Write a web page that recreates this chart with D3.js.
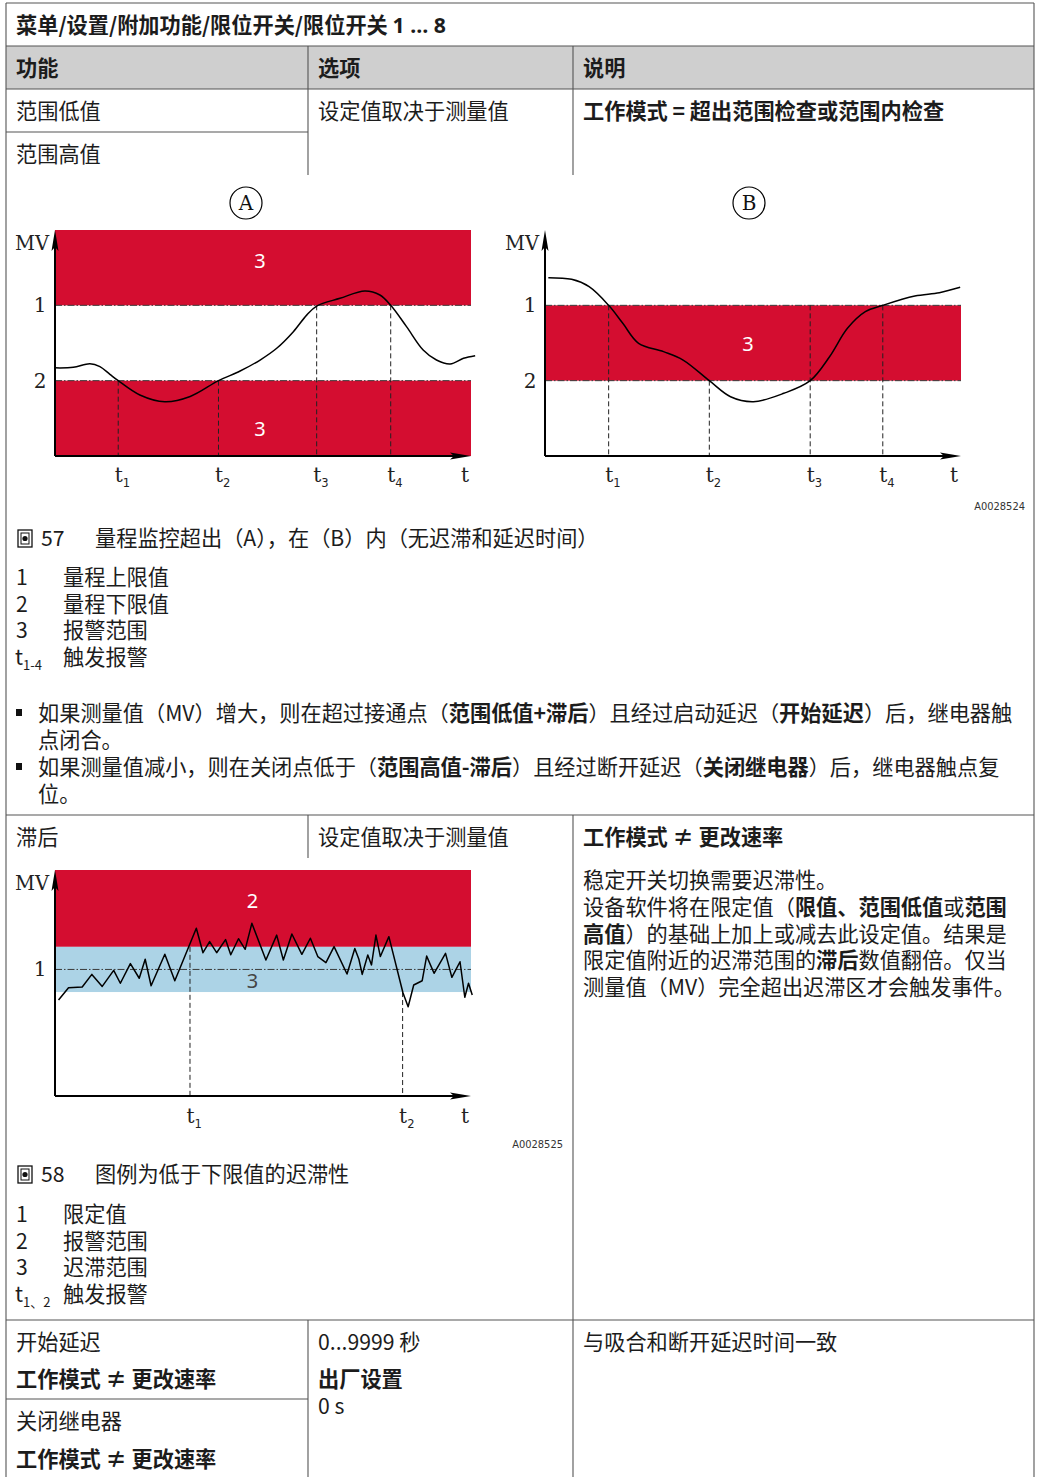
<!DOCTYPE html>
<html><head><meta charset="utf-8">
<script src="https://cdn.jsdelivr.net/npm/d3@7"></script>
<style>body{margin:0;background:#fff}svg{display:block}</style>
</head><body>
<svg id="c" width="1040" height="1477"></svg>
<script>
// ---------- DATA ----------
// Figure 57 (A): MV vs time (t 0..100, MV 0..3). Upper limit = 2, lower limit = 1
const curveA = [[0,1.17],[4.4,1.177],[8.4,1.225],[10.8,1.186],[13.2,1.084],[15.2,1.0],[20.4,0.81],[26.4,0.72],[32.5,0.79],[39.3,1.0],[44.5,1.128],[49.3,1.274],[53.3,1.43],[57.3,1.65],[60.5,1.87],[62.9,1.99],[68.5,2.093],[74.5,2.19],[78.1,2.137],[80.7,2.0],[84.5,1.717],[88.5,1.407],[91.7,1.274],[95.0,1.221],[98.2,1.297],[101,1.332]];
const curveB = [[0.8,2.367],[6.4,2.345],[10.6,2.248],[15.3,2.0],[18.7,1.761],[22.5,1.496],[28.5,1.385],[33.2,1.274],[39.5,1.0],[44.6,0.787],[50.1,0.721],[57.4,0.832],[63.75,1.0],[68.4,1.318],[72.7,1.695],[77.0,1.916],[81.2,2.0],[88.9,2.124],[94.8,2.168],[99.8,2.24]];
const limitsAB = [2, 1];               // upper (label 1), lower (label 2)
const limitLabelsAB = ["1", "2"];
const ticksA = [{t:15.2,from:1,sub:"1"},{t:39.3,from:1,sub:"2"},{t:62.9,from:2,sub:"3"},{t:80.7,from:2,sub:"4"}];
const ticksB = [{t:15.3,from:2,sub:"1"},{t:39.5,from:1,sub:"2"},{t:63.75,from:2,sub:"3"},{t:81.2,from:2,sub:"4"}];
// Figure 58: hysteresis (t 0..100, MV 0..100), limit 56, hysteresis +-10
const curve58 = [[0.85,42.5],[3.25,47.9],[6.54,48.2],[8.86,53.8],[11.35,48.5],[14.11,55.6],[15.71,49.9],[18.12,58.6],[20.25,52.1],[21.68,60.5],[23.10,48.8],[26.40,62.7],[28.80,51.0],[33.97,74.2],[35.57,63.4],[37.17,68.3],[38.86,63.4],[41.0,69.2],[42.25,62.5],[44.11,69.6],[45.72,64.9],[47.32,76.4],[50.70,60.2],[53.29,71.2],[54.89,60.2],[56.94,71.7],[59.34,62.7],[61.39,69.8],[63.17,61.7],[65.13,59.0],[67.08,66.1],[70.20,54.0],[72.07,65.3],[73.05,60.5],[73.85,53.8],[75.19,62.4],[76.08,58.0],[77.15,71.2],[78.21,61.7],[80.26,70.5],[83.64,45.7],[84.89,39.5],[86.23,49.1],[88.27,51.0],[89.34,61.9],[91.12,54.3],[93.88,63.1],[95.40,52.5],[97.36,59.4],[98.51,43.7],[99.40,49.9],[100.3,44.7]];
const limit58 = 56, hyst58 = 10;
const ticks58 = [{t:32.45,from:66,sub:"1"},{t:83.56,from:46,sub:"2"}];

// Texts
const titleSegs = [["菜单/设置/附加功能/限位开关/限位开关 ", "cjk"], ["1 … 8", "latin"]];
const headers = ["功能", "选项", "说明"];
const legend57 = [["1","量程上限值"],["2","量程下限值"],["3","报警范围"],["t|1-4","触发报警"]];
const legend58 = [["1","限定值"],["2","报警范围"],["3","迟滞范围"],["t|1、2","触发报警"]];
const bullets = [
  [[["如果测量值（MV）增大，则在超过接通点（",0],["范围低值+滞后",1],["）且经过启动延迟（",0],["开始延迟",1],["）后，继电器触",0]],[["点闭合。",0]]],
  [[["如果测量值减小，则在关闭点低于（",0],["范围高值-滞后",1],["）且经过断开延迟（",0],["关闭继电器",1],["）后，继电器触点复",0]],[["位。",0]]]
];
const para58 = [
  [["稳定开关切换需要迟滞性。",0]],
  [["设备软件将在限定值（",0],["限值、范围低值",1],["或",0],["范围",1]],
  [["高值",1],["）的基础上加上或减去此设定值。结果是",0]],
  [["限定值附近的迟滞范围的",0],["滞后",1],["数值翻倍。仅当",0]],
  [["测量值（MV）完全超出迟滞区才会触发事件。",0]]
];

// ---------- DRAW ----------
const svg = d3.select("#c");
const FONT = "'Noto Sans CJK SC','Noto Sans',sans-serif";
const LATIN = "'Noto Sans','Noto Sans CJK SC',sans-serif";
const SERIF = "'DejaVu Serif','Liberation Serif',serif";
const RED = "#d40d30", BLUE = "#acd3e6", LINE = "#555", TXT = "#1c1c1c";
const FS = 21.2;

function txt(x, y, segs, opt={}) {
  const t = svg.append("text").attr("x", x).attr("y", y)
    .attr("font-family", opt.family || FONT).attr("font-size", opt.size || FS)
    .attr("fill", opt.fill || TXT).attr("text-anchor", opt.anchor || "start");
  if (typeof segs === "string") segs = [[segs, opt.bold ? 1 : 0]];
  segs.forEach(s => t.append("tspan").text(s[0]).attr("font-weight", s[1] ? 700 : 400));
  return t;
}
// one <text> holding several positioned runs (multi-line blocks)
function block(runs) {
  const t = svg.append("text").attr("font-family", FONT).attr("font-size", FS).attr("fill", TXT);
  runs.forEach(r => {
    const s = t.append("tspan").text(r.text).attr("font-weight", r.bold ? 700 : 400);
    if (r.x !== undefined) s.attr("x", r.x);
    if (r.y !== undefined) s.attr("y", r.y);
    if (r.dy !== undefined) s.attr("dy", r.dy);
    if (r.size) s.attr("font-size", r.size);
  });
  return t;
}
function hl(x1, x2, y) { svg.append("line").attr("x1",x1).attr("x2",x2).attr("y1",y).attr("y2",y).attr("stroke",LINE).attr("stroke-width",1.1); }
function vl(x, y1, y2) { svg.append("line").attr("x1",x).attr("x2",x).attr("y1",y1).attr("y2",y2).attr("stroke",LINE).attr("stroke-width",1.1); }

// header background
svg.append("rect").attr("x",6).attr("y",46).attr("width",1028).attr("height",43).attr("fill","#cfcfcf");
// table lines
hl(6,1034,3); vl(6,3,1477); vl(1034,3,1477);
hl(6,1034,46); hl(6,1034,89);
vl(308,46,175); vl(573,46,175); hl(6,308,132);
hl(6,1034,815); vl(308,815,858); vl(573,815,1320);
hl(6,1034,1320); vl(308,1320,1477); vl(573,1320,1477); hl(6,308,1399);

{
  const t = svg.append("text").attr("x",16).attr("y",33).attr("font-size",FS).attr("font-weight",700).attr("fill",TXT);
  titleSegs.forEach(s => t.append("tspan").text(s[0]).attr("font-family", s[1]==="latin" ? LATIN : FONT));
}
[16,318,583].forEach((x,i)=>txt(x, 76, headers[i], {bold:1}));
txt(16,119,"范围低值"); txt(16,162,"范围高值");
txt(318,119,"设定值取决于测量值");
txt(583,119,"工作模式 = 超出范围检查或范围内检查",{bold:1});

// ---------- charts ----------
function drawChart(cfg) {
  const x = d3.scaleLinear().domain([0,100]).range(cfg.xr);
  const y = d3.scaleLinear().domain(cfg.yd).range(cfg.yr);
  const g = svg.append("g");
  cfg.bands.forEach(b => g.append("rect").attr("x", x(0)).attr("width", x(100)-x(0))
     .attr("y", y(b[1])).attr("height", y(b[0])-y(b[1])).attr("fill", b[2]));
  cfg.limits.forEach(v => g.append("line").attr("x1",x(0)).attr("x2",x(100)).attr("y1",y(v)).attr("y2",y(v))
     .attr("stroke","#3a3a3a").attr("stroke-width",1).attr("stroke-dasharray","7,2,1.5,2"));
  cfg.ticks.forEach(t => g.append("line").attr("x1",x(t.t)).attr("x2",x(t.t)).attr("y1",y(t.from)).attr("y2",y(cfg.yd[0]))
     .attr("stroke","#222").attr("stroke-width",1).attr("stroke-dasharray","5,3"));
  g.append("path").datum(cfg.curve)
    .attr("d", d3.line().x(d=>x(d[0])).y(d=>y(d[1])).curve(cfg.smooth ? d3.curveCatmullRom.alpha(0.5) : d3.curveLinear))
    .attr("fill","none").attr("stroke","#000").attr("stroke-width",1.5).attr("stroke-linejoin","round");
  // axes
  const x0 = x(0), yb = y(cfg.yd[0]), yt = y(cfg.yd[1]), xe = x(100);
  g.append("line").attr("x1",x0).attr("x2",x0).attr("y1",yb).attr("y2",yt+10).attr("stroke","#000").attr("stroke-width",2);
  g.append("line").attr("x1",x0).attr("x2",xe-10).attr("y1",yb).attr("y2",yb).attr("stroke","#000").attr("stroke-width",2);
  g.append("path").attr("d",`M${x0},${yt}L${x0-3.5},${yt+21}L${x0},${yt+17}L${x0+3.5},${yt+21}Z`).attr("fill","#000");
  g.append("path").attr("d",`M${xe},${yb}L${xe-21},${yb-3.5}L${xe-17},${yb}L${xe-21},${yb+3.5}Z`).attr("fill","#000");
  // tick labels via axis
  const ax = g.append("g").attr("transform",`translate(0,${yb})`)
    .call(d3.axisBottom(x).tickValues(cfg.ticks.map(d=>d.t)).tickSize(0).tickFormat(""));
  ax.select(".domain").remove();
  ax.attr("text-anchor","start");
  ax.selectAll(".tick").each(function(d,i){
    const tk = d3.select(this); tk.selectAll("text").remove();
    const t = tk.append("text").attr("x",-4).attr("y",cfg.tby).attr("fill","#222").attr("text-anchor","start");
    t.append("tspan").text("t").attr("font-family",SERIF).attr("font-size",20);
    t.append("tspan").text(cfg.ticks[i].sub).attr("font-family","'DejaVu Sans',sans-serif").attr("font-size",11.5).attr("dy",5);
  });
  g.append("text").attr("x",cfg.tEndX).attr("y",yb+cfg.tby).attr("text-anchor","middle")
    .attr("font-family",SERIF).attr("font-size",20).attr("fill","#222").text("t");
  g.append("text").attr("x",x0-6).attr("y",cfg.mvY).attr("text-anchor","end")
    .attr("font-family",SERIF).attr("font-size",19.5).attr("fill","#222").text("MV");
  cfg.ylabels.forEach(l => g.append("text").attr("x",x0-15).attr("y",y(l[0])+7).attr("text-anchor","middle")
    .attr("font-family",SERIF).attr("font-size",20).attr("fill","#222").text(l[1]));
  cfg.inner.forEach(l => g.append("text").attr("x",x(l[0])).attr("y",y(l[1])).attr("dominant-baseline","central")
    .attr("text-anchor","middle").attr("font-family","'Noto Sans',sans-serif").attr("font-size",20).attr("fill",l[3]).text(l[2]));
  if (cfg.circle) {
    g.append("circle").attr("cx",cfg.circle[0]).attr("cy",cfg.circle[1]).attr("r",16).attr("fill","none").attr("stroke","#000").attr("stroke-width",1.2);
    g.append("text").attr("x",cfg.circle[0]).attr("y",cfg.circle[1]+7).attr("text-anchor","middle")
      .attr("font-family",SERIF).attr("font-size",20).attr("fill","#111").text(cfg.circle[2]);
  }
}

drawChart({xr:[55,471], yr:[456,230], yd:[0,3], curve:curveA, smooth:true,
  bands:[[2,3,RED],[0,1,RED]], limits:limitsAB, ticks:ticksA, tby:26, tEndX:465, mvY:250,
  ylabels: limitsAB.map((v,i)=>[v,limitLabelsAB[i]]),
  inner:[[49.3,2.6,"3","#fff"],[49.3,0.37,"3","#fff"]], circle:[246,203,"A"]});
drawChart({xr:[545,961], yr:[456,230], yd:[0,3], curve:curveB, smooth:true,
  bands:[[1,2,RED]], limits:limitsAB, ticks:ticksB, tby:26, tEndX:954, mvY:250,
  ylabels: limitsAB.map((v,i)=>[v,limitLabelsAB[i]]),
  inner:[[48.8,1.5,"3","#fff"]], circle:[749,203,"B"]});
drawChart({xr:[55,471], yr:[1096,870], yd:[0,100], curve:curve58, smooth:false,
  bands:[[limit58+hyst58,100,RED],[limit58-hyst58,limit58+hyst58,BLUE]], limits:[limit58], ticks:ticks58, tby:27, tEndX:465, mvY:890,
  ylabels:[[limit58,"1"]],
  inner:[[47.5,86.7,"2","#fff"],[47.5,51.3,"3","#444"]], circle:null});

// codes
txt(1025,510,"A0028524",{size:11,anchor:"end",family:"'DejaVu Sans Condensed','DejaVu Sans',sans-serif",fill:"#333"});
txt(563,1148,"A0028525",{size:11,anchor:"end",family:"'DejaVu Sans Condensed','DejaVu Sans',sans-serif",fill:"#333"});

// caption icons
function figIcon(x, y) {
  svg.append("rect").attr("x",x).attr("y",y).attr("width",14).attr("height",17).attr("fill","none").attr("stroke","#111").attr("stroke-width",1.3);
  svg.append("rect").attr("x",x+3).attr("y",y+3).attr("width",8).attr("height",11).attr("fill","none").attr("stroke","#111").attr("stroke-width",1);
  svg.append("circle").attr("cx",x+7).attr("cy",y+8.5).attr("r",2.6).attr("fill","#111");
}
figIcon(18,530); txt(41,546,"57"); txt(95,546,"量程监控超出（A），在（B）内（无迟滞和延迟时间）");

function legend(items, y0) {
  const runs = [];
  items.forEach((it,i) => {
    const y = y0 + i*26.7;
    if (it[0].startsWith("t|")) {
      runs.push({text:"t", x:15, y:y});
      runs.push({text:it[0].slice(2), size:13, dy:5});
    } else runs.push({text:it[0], x:16, y:y});
    runs.push({text:it[1], x:63, y:y});
  });
  block(runs);
}
legend(legend57, 585);

{
  const runs = [];
  bullets.forEach((b,i) => {
    b.forEach((line,j) => {
      const y = 721 + i*54 + j*27;
      if (j===0) svg.append("rect").attr("x",16).attr("y",y-12).attr("width",6).attr("height",7).attr("fill","#111");
      line.forEach((s,k) => runs.push(k===0 ? {text:s[0], bold:s[1], x:38, y:y} : {text:s[0], bold:s[1]}));
    });
  });
  block(runs);
}

// row 2
txt(16,845,"滞后"); txt(318,845,"设定值取决于测量值");
txt(583,845,"工作模式 ≠ 更改速率",{bold:1});
{
  const runs = [];
  para58.forEach((l,i) => l.forEach((s,k) => runs.push(k===0 ? {text:s[0], bold:s[1], x:583, y:888 + i*26.8} : {text:s[0], bold:s[1]})));
  block(runs);
}
figIcon(18,1166); txt(41,1182,"58"); txt(95,1182,"图例为低于下限值的迟滞性");
legend(legend58, 1222);

// row 3
txt(16,1350,"开始延迟"); txt(16,1387,"工作模式 ≠ 更改速率",{bold:1});
txt(16,1429,"关闭继电器"); txt(16,1467,"工作模式 ≠ 更改速率",{bold:1});
txt(318,1350,"0...9999 秒");
block([{text:"出厂设置", bold:1, x:318, y:1387},{text:"0 s", x:318, y:1414}]);
txt(583,1350,"与吸合和断开延迟时间一致");
</script>
</body></html>
